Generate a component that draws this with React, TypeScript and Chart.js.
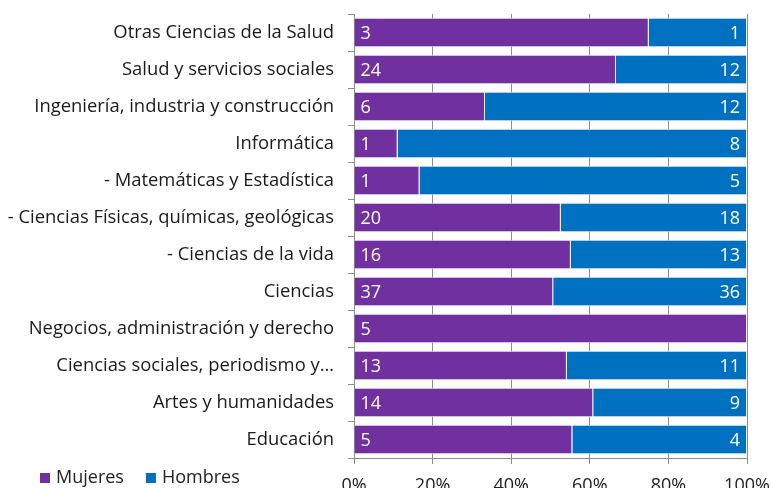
import React, { useEffect, useRef } from "react";
import { Chart, registerables } from "chart.js";

Chart.register(...registerables);

const categories = [
  "Otras Ciencias de la Salud",
  "Salud y servicios sociales",
  "Ingeniería, industria y construcción",
  "Informática",
  "- Matemáticas y Estadística",
  "- Ciencias Físicas, químicas, geológicas",
  "- Ciencias de la vida",
  "Ciencias",
  "Negocios, administración y derecho",
  "Ciencias sociales, periodismo y…",
  "Artes y humanidades",
  "Educación",
];
const mujeres = [3, 24, 6, 1, 1, 20, 16, 37, 5, 13, 14, 5];
const hombres = [1, 12, 12, 8, 5, 18, 13, 36, 0, 11, 9, 4];
const xTicks = ["0%", "20%", "40%", "60%", "80%", "100%"];

const FONT = "'Open Sans', sans-serif";
const PURPLE = "#7030A0";
const BLUE = "#0070C0";
const CANVAS_H = 520;
const PLOT_BOTTOM = 458;

const mujeresPct = mujeres.map((m, i) => (m / (m + hombres[i])) * 100);
const hombresPct = hombres.map((h, i) => (h / (mujeres[i] + h)) * 100);
const counts = [mujeres, hombres];

const labelPlugin = {
  id: "countLabels",
  afterDatasetsDraw(chart: any) {
    const ctx = chart.ctx;
    ctx.save();
    ctx.font = `18px ${FONT}`;
    ctx.fillStyle = "#ffffff";
    ctx.textBaseline = "middle";
    chart.data.datasets.forEach((ds: any, di: number) => {
      const meta = chart.getDatasetMeta(di);
      meta.data.forEach((el: any, i: number) => {
        const v = counts[di][i];
        if (!v) return;
        const left = Math.min(el.base, el.x);
        const right = Math.max(el.base, el.x);
        if (di === 0) {
          ctx.textAlign = "left";
          ctx.fillText(String(v), left + 6, el.y + 1);
        } else {
          ctx.textAlign = "right";
          ctx.fillText(String(v), right - 7, el.y + 1);
        }
      });
    });
    ctx.restore();
  },
};

const legendPlugin = {
  id: "customLegend",
  afterDraw(chart: any) {
    const ctx = chart.ctx;
    ctx.save();
    ctx.font = `18px ${FONT}`;
    ctx.textBaseline = "middle";
    ctx.textAlign = "left";
    let x = 40;
    const y = 478;
    chart.data.datasets.forEach((ds: any) => {
      ctx.fillStyle = ds.backgroundColor;
      ctx.fillRect(x, y - 5, 10, 10);
      ctx.fillStyle = "#222222";
      ctx.fillText(ds.label, x + 16, y);
      x += 16 + ctx.measureText(ds.label).width + 22;
    });
    ctx.restore();
  },
};

export default function App() {
  const ref = useRef<HTMLCanvasElement>(null);
  useEffect(() => {
    document.body.style.margin = "0";
    const chart = new Chart(ref.current!, {
      type: "bar",
      data: {
        labels: categories,
        datasets: [
          {
            label: "Mujeres",
            data: mujeresPct,
            backgroundColor: PURPLE,
            borderColor: "rgba(235,235,245,0.9)",
            borderWidth: 1,
            categoryPercentage: 1,
            barPercentage: 0.8,
          },
          {
            label: "Hombres",
            data: hombresPct,
            backgroundColor: BLUE,
            borderColor: "rgba(235,235,245,0.9)",
            borderWidth: 1,
            categoryPercentage: 1,
            barPercentage: 0.8,
          },
        ],
      },
      options: {
        indexAxis: "y",
        animation: false,
        responsive: false,
        layout: { padding: { top: 14, right: 24, left: 0, bottom: 0 } },
        plugins: {
          legend: { display: false },
          tooltip: { enabled: false },
        },
        scales: {
          x: {
            stacked: true,
            min: 0,
            max: 100,
            ticks: {
              stepSize: 20,
              color: "#222222",
              font: { family: FONT, size: 18 },
              padding: 11,
              callback: (_v: any, i: number) => xTicks[i],
            },
            grid: {
              color: "#8c8c8c",
              tickLength: 6,
              drawOnChartArea: true,
            },
            border: { color: "#8c8c8c" },
            afterFit: (s: any) => {
              s.height = CANVAS_H - PLOT_BOTTOM;
              s.paddingLeft = 0;
              s.paddingRight = 0;
              s.paddingTop = 0;
              s.paddingBottom = 0;
            },
          },
          y: {
            stacked: true,
            ticks: {
              color: "#1a1a1a",
              font: { family: FONT, size: 18.4 },
              padding: 14,
            },
            grid: {
              color: "#8c8c8c",
              tickLength: 6,
              drawOnChartArea: false,
              offset: true,
            },
            border: { color: "#8c8c8c" },
            afterFit: (s: any) => {
              s.width = 354;
              s.paddingLeft = 0;
              s.paddingRight = 0;
              s.paddingTop = 0;
              s.paddingBottom = 0;
            },
          },
        },
      },
      plugins: [labelPlugin, legendPlugin],
    } as any);
    return () => chart.destroy();
  }, []);
  return (
    <div style={{ width: 771, height: 488, overflow: "hidden", background: "#fff" }}>
      <canvas ref={ref} width={771} height={CANVAS_H} style={{ display: "block" }} />
    </div>
  );
}
